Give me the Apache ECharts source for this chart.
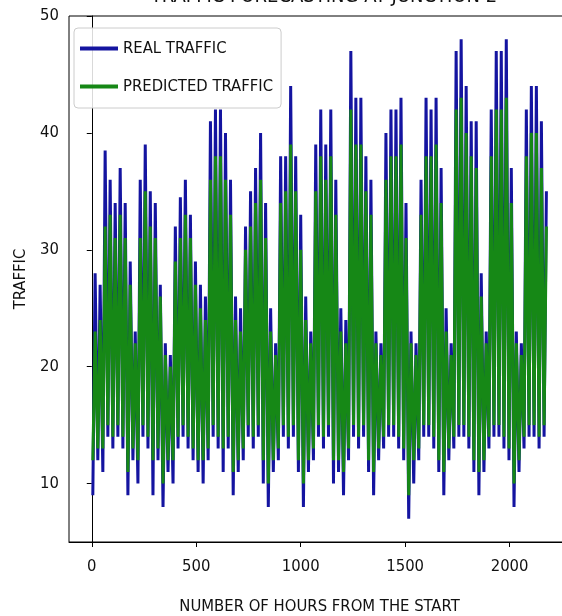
<!DOCTYPE html>
<html>
<head>
<meta charset="utf-8">
<script src="https://cdn.jsdelivr.net/npm/echarts@6/dist/echarts.min.js"></script>
<style>
html,body{margin:0;padding:0;background:#fff;}
#chart{width:562px;height:616px;}
</style>
</head>
<body>
<div id="chart"></div>
<script>
// Daily values (one entry per day, 91 days, hourly chart)
const realPeak = [
  28,27,38.5,36,34,37,34,
  29,23,36,39,35,34,27,
  22,21,32,34.5,36,33,29,
  27,26,41,42,42,40,36,
  26,25,32,35,37,40,34,
  25,22,38,38,44,38,33,
  26,23,39,42,39,42,36,
  25,24,47,43,43,38,36,
  23,22,40,42,42,43,34,
  23,22,36,43,42,43,37,
  25,22,47,48,44,41,41,
  28,23,42,47,47,48,37,
  23,22,42,44,44,41,35
];
const realLow = [
  9,12,11,14,13,14,13,
  9,12,10,14,13,9,12,
  8,11,10,13,14,13,12,
  11,10,12,14,13,11,13,
  9,11,12,14,13,14,10,
  8,11,12,14,13,14,11,
  8,11,12,14,13,14,10,
  11,9,12,14,13,14,11,
  9,12,13,14,14,13,12,
  7,10,12,14,14,13,11,
  9,12,13,14,14,13,11,
  9,11,13,14,14,13,12,
  8,11,13,14,14,13,14
];
const predPeak = [
  23,24,32,33,31,33,31,
  27,22,31,35,32,31,26,
  21,20,29,31,33,31,27,
  25,24,36,38,38,36,33,
  24,23,30,32,34,36,31,
  23,21,34,35,39,35,30,
  24,22,35,38,36,38,33,
  23,22,42,39,39,35,33,
  22,21,36,38,38,39,31,
  22,21,33,38,38,39,34,
  23,21,42,43,40,38,37,
  26,22,38,42,42,43,34,
  22,21,38,40,40,37,32
];
const predLow = [
  12,13,13,15,14,15,14,
  11,13,12,15,14,12,13,
  10,12,12,14,15,14,13,
  12,12,13,15,14,13,14,
  11,12,13,15,14,15,12,
  10,12,13,15,14,15,12,
  10,12,13,15,14,15,12,
  12,11,13,15,14,15,12,
  11,13,14,15,15,14,13,
  9,12,13,15,15,14,12,
  11,13,14,15,15,14,12,
  11,12,14,15,15,14,13,
  10,12,14,15,15,14,15
];
const hoursPerDay = 24;
const lowHour = 5;
const peakHour = 16;
const xTicks = [0, 500, 1000, 1500, 2000];
const yTicks = [10, 20, 30, 40, 50];

function build(lows, peaks) {
  const out = [];
  for (let d = 0; d < peaks.length; d++) {
    out.push([d * hoursPerDay + lowHour, lows[d]]);
    out.push([d * hoursPerDay + peakHour, peaks[d]]);
  }
  return out;
}

const FONT = "'DejaVu Sans Condensed','DejaVu Sans',sans-serif";
const chart = echarts.init(document.getElementById('chart'), null, {renderer: 'canvas'});
chart.setOption({
  animation: false,
  backgroundColor: '#fff',
  title: {
    text: 'TRAFFIC FORECASTING AT JUNCTION 2',
    left: 319, textAlign: 'center', top: -18,
    textStyle: {fontFamily: FONT, fontSize: 20, fontWeight: 'normal', color: '#111'}
  },
  legend: {
    left: 74, top: 28, orient: 'vertical',
    itemWidth: 38, itemHeight: 4, itemGap: 21,
    padding: [12, 8, 13, 6],
    borderColor: '#cccccc', borderWidth: 1, borderRadius: 4,
    backgroundColor: 'rgba(255,255,255,0.85)',
    icon: 'rect',
    textStyle: {fontFamily: FONT, fontSize: 16.5, color: '#111'},
    data: ['REAL TRAFFIC', 'PREDICTED TRAFFIC']
  },
  grid: {left: 69, top: 16, width: 501, height: 526, show: true, borderColor: '#000', borderWidth: 1,
    backgroundColor: 'transparent', containLabel: false, outerBoundsMode: 'none'},
  xAxis: {
    type: 'value', min: -109, max: 2289,
    name: 'NUMBER OF HOURS FROM THE START', nameLocation: 'middle', nameGap: 56,
    nameTextStyle: {fontFamily: FONT, fontSize: 16.5, color: '#111'},
    axisLine: {lineStyle: {color: '#000', width: 1}},
    axisTick: {show: true, inside: false, length: 5, lineStyle: {color: '#000'}, customValues: xTicks},
    axisLabel: {fontFamily: FONT, fontSize: 16.5, color: '#111', margin: 16, customValues: xTicks,
      formatter: v => xTicks.indexOf(v) >= 0 ? String(v) : ''},
    splitLine: {show: false}
  },
  yAxis: {
    type: 'value', min: 5, max: 50,
    name: 'TRAFFIC', nameLocation: 'middle', nameGap: 37,
    nameTextStyle: {fontFamily: FONT, fontSize: 16.5, color: '#111'},
    axisLine: {show: true, lineStyle: {color: '#000', width: 1}},
    axisTick: {show: true, inside: false, length: 5, lineStyle: {color: '#000'}, customValues: yTicks},
    axisLabel: {fontFamily: FONT, fontSize: 16.5, color: '#111', margin: 10, customValues: yTicks,
      formatter: v => yTicks.indexOf(v) >= 0 ? String(v) : ''},
    splitLine: {show: false}
  },
  series: [
    {name: 'REAL TRAFFIC', type: 'line', data: build(realLow, realPeak), showSymbol: false, symbol: 'none',
      color: '#1414a0', lineStyle: {width: 3, color: '#1414a0'}, z: 2},
    {name: 'PREDICTED TRAFFIC', type: 'line', data: build(predLow, predPeak), showSymbol: false, symbol: 'none',
      color: '#168816', lineStyle: {width: 3, color: '#168816'}, z: 3}
  ]
});
</script>
</body>
</html>
